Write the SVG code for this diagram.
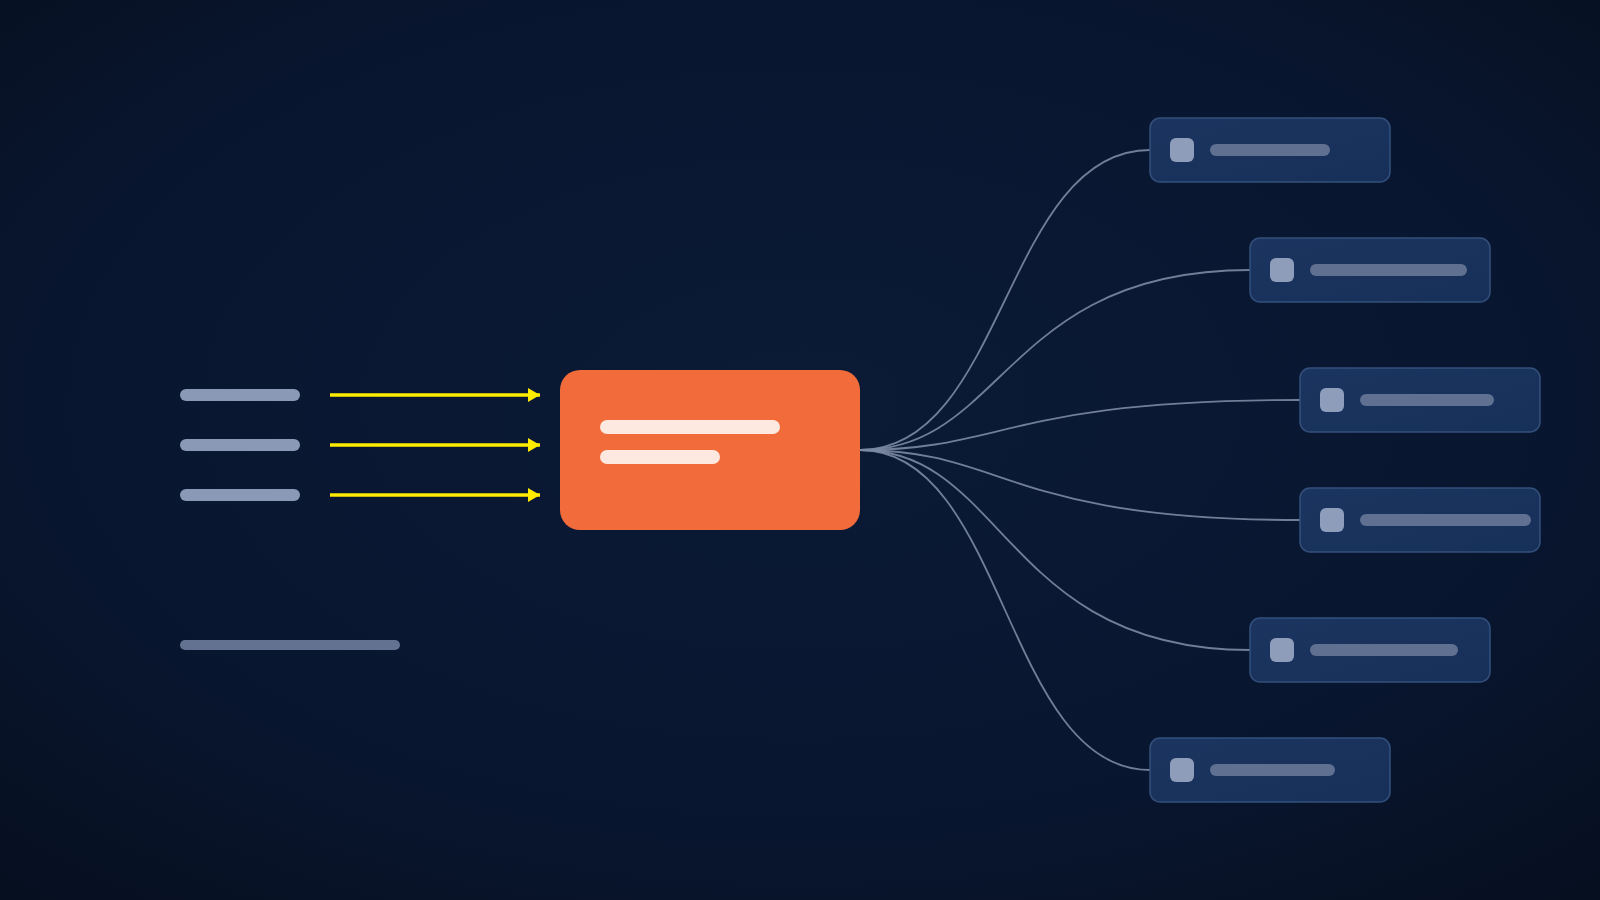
<svg xmlns="http://www.w3.org/2000/svg" width="1600" height="900" viewBox="0 0 1600 900">
  <defs>
    <radialGradient id="bg" cx="50%" cy="45%" r="75%">
      <stop offset="0" stop-color="#0b1a35"/>
      <stop offset="0.6" stop-color="#091630"/>
      <stop offset="1" stop-color="#060f1f"/>
    </radialGradient>
    <linearGradient id="card" x1="0" y1="0" x2="1" y2="1">
      <stop offset="0" stop-color="#1b3560"/>
      <stop offset="1" stop-color="#17305a"/>
    </linearGradient>
    <marker id="arr" viewBox="0 0 12 14" refX="12" refY="7" markerWidth="12" markerHeight="14" markerUnits="userSpaceOnUse" orient="auto">
      <path d="M0,0 L12,7 L0,14 Z" fill="#ffec00"/>
    </marker>
    <style>
      .src { fill: #8a9ab6; }
      .arrow { stroke: #ffec00; stroke-width: 3.5; fill: none; }
      .conn { stroke: #7c8aa3; stroke-width: 1.8; fill: none; opacity: 0.9; }
      .card { fill: url(#card); stroke: #33507c; stroke-width: 1.5; }
      .icon { fill: #8e9dba; }
      .lbl { fill: #5f7090; }
      .hub-bar { fill: #fde9df; }
    </style>
  </defs>
  <rect width="1600" height="900" fill="url(#bg)"/>

  <g id="sources">
    <rect class="src" x="180" y="389" width="120" height="12" rx="6"/>
    <rect class="src" x="180" y="439" width="120" height="12" rx="6"/>
    <rect class="src" x="180" y="489" width="120" height="12" rx="6"/>
  </g>

  <g id="footer-note">
    <rect x="180" y="640" width="220" height="10" rx="5" fill="#637290"/>
  </g>

  <g id="connectors">
    <line class="arrow" x1="330" y1="395" x2="540" y2="395" marker-end="url(#arr)"/>
    <line class="arrow" x1="330" y1="445" x2="540" y2="445" marker-end="url(#arr)"/>
    <line class="arrow" x1="330" y1="495" x2="540" y2="495" marker-end="url(#arr)"/>
    <path class="conn" d="M860,450 C1005,450 1005,150 1150,150"/>
    <path class="conn" d="M860,450 C1005,450 1005,270 1250,270"/>
    <path class="conn" d="M860,450 C1005,450 1005,400 1300,400"/>
    <path class="conn" d="M860,450 C1005,450 1005,520 1300,520"/>
    <path class="conn" d="M860,450 C1005,450 1005,650 1250,650"/>
    <path class="conn" d="M860,450 C1005,450 1005,770 1150,770"/>
  </g>

  <g id="hub">
    <rect x="560" y="370" width="300" height="160" rx="20" fill="#f26b3b"/>
    <rect class="hub-bar" x="600" y="420" width="180" height="14" rx="7"/>
    <rect class="hub-bar" x="600" y="450" width="120" height="14" rx="7"/>
  </g>

  <g id="node1">
    <rect class="card" x="1150" y="118" width="240" height="64" rx="10"/>
    <rect class="icon" x="1170" y="138" width="24" height="24" rx="6"/>
    <rect class="lbl" x="1210" y="144" width="120" height="12" rx="6"/>
  </g>
  <g id="node2">
    <rect class="card" x="1250" y="238" width="240" height="64" rx="10"/>
    <rect class="icon" x="1270" y="258" width="24" height="24" rx="6"/>
    <rect class="lbl" x="1310" y="264" width="157" height="12" rx="6"/>
  </g>
  <g id="node3">
    <rect class="card" x="1300" y="368" width="240" height="64" rx="10"/>
    <rect class="icon" x="1320" y="388" width="24" height="24" rx="6"/>
    <rect class="lbl" x="1360" y="394" width="134" height="12" rx="6"/>
  </g>
  <g id="node4">
    <rect class="card" x="1300" y="488" width="240" height="64" rx="10"/>
    <rect class="icon" x="1320" y="508" width="24" height="24" rx="6"/>
    <rect class="lbl" x="1360" y="514" width="171" height="12" rx="6"/>
  </g>
  <g id="node5">
    <rect class="card" x="1250" y="618" width="240" height="64" rx="10"/>
    <rect class="icon" x="1270" y="638" width="24" height="24" rx="6"/>
    <rect class="lbl" x="1310" y="644" width="148" height="12" rx="6"/>
  </g>
  <g id="node6">
    <rect class="card" x="1150" y="738" width="240" height="64" rx="10"/>
    <rect class="icon" x="1170" y="758" width="24" height="24" rx="6"/>
    <rect class="lbl" x="1210" y="764" width="125" height="12" rx="6"/>
  </g>
</svg>
